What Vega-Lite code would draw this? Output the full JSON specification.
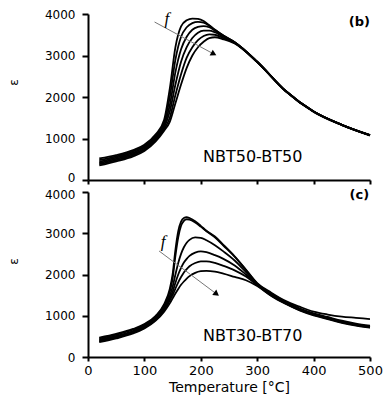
{
  "$schema": "https://vega.github.io/schema/vega-lite/v6.json",
  "padding": {"left": 7, "top": 8, "right": 5, "bottom": 4},
  "bounds": "flush",
  "spacing": 12,
  "background": "white",
  "config": {
    "view": {"stroke": null},
    "font": "DejaVu Sans",
    "axis": {
      "grid": false,
      "domainColor": "black",
      "domainWidth": 2,
      "tickColor": "black",
      "tickWidth": 2,
      "labelFont": "DejaVu Sans",
      "labelFontSize": 13,
      "labelColor": "black",
      "titleFont": "DejaVu Sans",
      "titleFontSize": 14,
      "titleFontWeight": "normal",
      "titleColor": "black",
      "labelFlush": false
    },
    "axisY": {"labelFontSize": 12}
  },
  "datasets": {
    "one": [{}],
    "b": [
      {"f":1,"T":20,"e":520},{"f":1,"T":50,"e":600},{"f":1,"T":80,"e":720},{"f":1,"T":100,"e":850},{"f":1,"T":120,"e":1100},{"f":1,"T":135,"e":1450},{"f":1,"T":145,"e":2200},{"f":1,"T":155,"e":3200},{"f":1,"T":165,"e":3700},{"f":1,"T":175,"e":3850},{"f":1,"T":185,"e":3890},{"f":1,"T":195,"e":3880},{"f":1,"T":205,"e":3830},{"f":1,"T":215,"e":3730},{"f":1,"T":225,"e":3620},{"f":1,"T":240,"e":3480},{"f":1,"T":260,"e":3320},{"f":1,"T":300,"e":2850},{"f":1,"T":350,"e":2150},{"f":1,"T":400,"e":1650},{"f":1,"T":450,"e":1330},{"f":1,"T":500,"e":1080},
      {"f":2,"T":20,"e":480},{"f":2,"T":50,"e":570},{"f":2,"T":80,"e":690},{"f":2,"T":100,"e":820},{"f":2,"T":120,"e":1060},{"f":2,"T":135,"e":1380},{"f":2,"T":145,"e":2000},{"f":2,"T":155,"e":2900},{"f":2,"T":165,"e":3450},{"f":2,"T":175,"e":3680},{"f":2,"T":185,"e":3780},{"f":2,"T":195,"e":3810},{"f":2,"T":205,"e":3790},{"f":2,"T":215,"e":3720},{"f":2,"T":225,"e":3620},{"f":2,"T":240,"e":3480},{"f":2,"T":260,"e":3320},{"f":2,"T":300,"e":2850},{"f":2,"T":350,"e":2150},{"f":2,"T":400,"e":1650},{"f":2,"T":450,"e":1330},{"f":2,"T":500,"e":1080},
      {"f":3,"T":20,"e":440},{"f":3,"T":50,"e":540},{"f":3,"T":80,"e":660},{"f":3,"T":100,"e":790},{"f":3,"T":120,"e":1020},{"f":3,"T":135,"e":1320},{"f":3,"T":145,"e":1800},{"f":3,"T":155,"e":2600},{"f":3,"T":165,"e":3150},{"f":3,"T":175,"e":3450},{"f":3,"T":185,"e":3620},{"f":3,"T":195,"e":3690},{"f":3,"T":205,"e":3710},{"f":3,"T":215,"e":3680},{"f":3,"T":225,"e":3600},{"f":3,"T":240,"e":3470},{"f":3,"T":260,"e":3320},{"f":3,"T":300,"e":2850},{"f":3,"T":350,"e":2150},{"f":3,"T":400,"e":1650},{"f":3,"T":450,"e":1330},{"f":3,"T":500,"e":1080},
      {"f":4,"T":20,"e":410},{"f":4,"T":50,"e":510},{"f":4,"T":80,"e":630},{"f":4,"T":100,"e":760},{"f":4,"T":120,"e":990},{"f":4,"T":135,"e":1270},{"f":4,"T":145,"e":1650},{"f":4,"T":155,"e":2300},{"f":4,"T":165,"e":2850},{"f":4,"T":175,"e":3200},{"f":4,"T":185,"e":3420},{"f":4,"T":195,"e":3550},{"f":4,"T":205,"e":3600},{"f":4,"T":215,"e":3600},{"f":4,"T":225,"e":3560},{"f":4,"T":240,"e":3450},{"f":4,"T":260,"e":3310},{"f":4,"T":300,"e":2850},{"f":4,"T":350,"e":2150},{"f":4,"T":400,"e":1650},{"f":4,"T":450,"e":1330},{"f":4,"T":500,"e":1080},
      {"f":5,"T":20,"e":380},{"f":5,"T":50,"e":480},{"f":5,"T":80,"e":600},{"f":5,"T":100,"e":730},{"f":5,"T":120,"e":960},{"f":5,"T":135,"e":1230},{"f":5,"T":145,"e":1500},{"f":5,"T":155,"e":2050},{"f":5,"T":165,"e":2550},{"f":5,"T":175,"e":2950},{"f":5,"T":185,"e":3200},{"f":5,"T":195,"e":3370},{"f":5,"T":205,"e":3470},{"f":5,"T":215,"e":3510},{"f":5,"T":225,"e":3500},{"f":5,"T":240,"e":3420},{"f":5,"T":260,"e":3300},{"f":5,"T":300,"e":2840},{"f":5,"T":350,"e":2150},{"f":5,"T":400,"e":1650},{"f":5,"T":450,"e":1330},{"f":5,"T":500,"e":1080},
      {"f":6,"T":20,"e":350},{"f":6,"T":50,"e":450},{"f":6,"T":80,"e":570},{"f":6,"T":100,"e":700},{"f":6,"T":120,"e":930},{"f":6,"T":135,"e":1190},{"f":6,"T":145,"e":1400},{"f":6,"T":155,"e":1850},{"f":6,"T":165,"e":2300},{"f":6,"T":175,"e":2700},{"f":6,"T":185,"e":3000},{"f":6,"T":195,"e":3200},{"f":6,"T":205,"e":3330},{"f":6,"T":215,"e":3420},{"f":6,"T":225,"e":3440},{"f":6,"T":240,"e":3390},{"f":6,"T":260,"e":3290},{"f":6,"T":300,"e":2840},{"f":6,"T":350,"e":2140},{"f":6,"T":400,"e":1640},{"f":6,"T":450,"e":1320},{"f":6,"T":500,"e":1070}
    ],
    "c": [
      {"f":1,"T":20,"e":470},{"f":1,"T":50,"e":560},{"f":1,"T":80,"e":680},{"f":1,"T":100,"e":800},{"f":1,"T":120,"e":1000},{"f":1,"T":135,"e":1280},{"f":1,"T":145,"e":1650},{"f":1,"T":150,"e":2000},{"f":1,"T":155,"e":2600},{"f":1,"T":160,"e":3050},{"f":1,"T":165,"e":3280},{"f":1,"T":170,"e":3370},{"f":1,"T":175,"e":3390},{"f":1,"T":180,"e":3370},{"f":1,"T":190,"e":3290},{"f":1,"T":200,"e":3180},{"f":1,"T":210,"e":3060},{"f":1,"T":225,"e":2920},{"f":1,"T":240,"e":2720},{"f":1,"T":260,"e":2440},{"f":1,"T":280,"e":2120},{"f":1,"T":300,"e":1790},{"f":1,"T":325,"e":1560},{"f":1,"T":350,"e":1360},{"f":1,"T":375,"e":1220},{"f":1,"T":400,"e":1100},{"f":1,"T":425,"e":1030},{"f":1,"T":450,"e":980},{"f":1,"T":475,"e":950},{"f":1,"T":500,"e":920},
      {"f":2,"T":20,"e":450},{"f":2,"T":50,"e":540},{"f":2,"T":80,"e":660},{"f":2,"T":100,"e":780},{"f":2,"T":120,"e":980},{"f":2,"T":135,"e":1250},{"f":2,"T":145,"e":1580},{"f":2,"T":150,"e":1900},{"f":2,"T":155,"e":2450},{"f":2,"T":160,"e":2900},{"f":2,"T":165,"e":3180},{"f":2,"T":170,"e":3300},{"f":2,"T":175,"e":3340},{"f":2,"T":180,"e":3330},{"f":2,"T":190,"e":3260},{"f":2,"T":200,"e":3160},{"f":2,"T":210,"e":3050},{"f":2,"T":225,"e":2900},{"f":2,"T":240,"e":2700},{"f":2,"T":260,"e":2430},{"f":2,"T":280,"e":2110},{"f":2,"T":300,"e":1780},{"f":2,"T":325,"e":1540},{"f":2,"T":350,"e":1340},{"f":2,"T":375,"e":1180},{"f":2,"T":400,"e":1060},{"f":2,"T":425,"e":970},{"f":2,"T":450,"e":880},{"f":2,"T":475,"e":810},{"f":2,"T":500,"e":760},
      {"f":3,"T":20,"e":420},{"f":3,"T":50,"e":510},{"f":3,"T":80,"e":630},{"f":3,"T":100,"e":750},{"f":3,"T":120,"e":950},{"f":3,"T":135,"e":1200},{"f":3,"T":145,"e":1480},{"f":3,"T":150,"e":1700},{"f":3,"T":155,"e":2000},{"f":3,"T":160,"e":2280},{"f":3,"T":165,"e":2500},{"f":3,"T":170,"e":2660},{"f":3,"T":175,"e":2770},{"f":3,"T":180,"e":2840},{"f":3,"T":190,"e":2900},{"f":3,"T":200,"e":2890},{"f":3,"T":210,"e":2830},{"f":3,"T":225,"e":2710},{"f":3,"T":240,"e":2560},{"f":3,"T":260,"e":2340},{"f":3,"T":280,"e":2060},{"f":3,"T":300,"e":1770},{"f":3,"T":325,"e":1520},{"f":3,"T":350,"e":1320},{"f":3,"T":375,"e":1160},{"f":3,"T":400,"e":1040},{"f":3,"T":425,"e":950},{"f":3,"T":450,"e":860},{"f":3,"T":475,"e":790},{"f":3,"T":500,"e":740},
      {"f":4,"T":20,"e":400},{"f":4,"T":50,"e":490},{"f":4,"T":80,"e":610},{"f":4,"T":100,"e":730},{"f":4,"T":120,"e":920},{"f":4,"T":135,"e":1160},{"f":4,"T":145,"e":1420},{"f":4,"T":150,"e":1580},{"f":4,"T":155,"e":1800},{"f":4,"T":160,"e":2000},{"f":4,"T":165,"e":2160},{"f":4,"T":170,"e":2290},{"f":4,"T":175,"e":2380},{"f":4,"T":180,"e":2450},{"f":4,"T":190,"e":2530},{"f":4,"T":200,"e":2560},{"f":4,"T":210,"e":2540},{"f":4,"T":225,"e":2470},{"f":4,"T":240,"e":2380},{"f":4,"T":260,"e":2220},{"f":4,"T":280,"e":2000},{"f":4,"T":300,"e":1760},{"f":4,"T":325,"e":1500},{"f":4,"T":350,"e":1310},{"f":4,"T":375,"e":1150},{"f":4,"T":400,"e":1030},{"f":4,"T":425,"e":940},{"f":4,"T":450,"e":850},{"f":4,"T":475,"e":780},{"f":4,"T":500,"e":730},
      {"f":5,"T":20,"e":380},{"f":5,"T":50,"e":470},{"f":5,"T":80,"e":590},{"f":5,"T":100,"e":710},{"f":5,"T":120,"e":900},{"f":5,"T":135,"e":1130},{"f":5,"T":145,"e":1370},{"f":5,"T":150,"e":1500},{"f":5,"T":155,"e":1660},{"f":5,"T":160,"e":1810},{"f":5,"T":165,"e":1940},{"f":5,"T":170,"e":2050},{"f":5,"T":175,"e":2130},{"f":5,"T":180,"e":2200},{"f":5,"T":190,"e":2280},{"f":5,"T":200,"e":2320},{"f":5,"T":210,"e":2320},{"f":5,"T":225,"e":2280},{"f":5,"T":240,"e":2210},{"f":5,"T":260,"e":2100},{"f":5,"T":280,"e":1950},{"f":5,"T":300,"e":1740},{"f":5,"T":325,"e":1490},{"f":5,"T":350,"e":1300},{"f":5,"T":375,"e":1140},{"f":5,"T":400,"e":1020},{"f":5,"T":425,"e":930},{"f":5,"T":450,"e":840},{"f":5,"T":475,"e":770},{"f":5,"T":500,"e":720},
      {"f":6,"T":20,"e":360},{"f":6,"T":50,"e":450},{"f":6,"T":80,"e":570},{"f":6,"T":100,"e":690},{"f":6,"T":120,"e":880},{"f":6,"T":135,"e":1100},{"f":6,"T":145,"e":1300},{"f":6,"T":150,"e":1420},{"f":6,"T":155,"e":1540},{"f":6,"T":160,"e":1650},{"f":6,"T":165,"e":1750},{"f":6,"T":170,"e":1830},{"f":6,"T":175,"e":1900},{"f":6,"T":180,"e":1960},{"f":6,"T":190,"e":2040},{"f":6,"T":200,"e":2080},{"f":6,"T":210,"e":2090},{"f":6,"T":225,"e":2070},{"f":6,"T":240,"e":2020},{"f":6,"T":260,"e":1940},{"f":6,"T":280,"e":1860},{"f":6,"T":300,"e":1720},{"f":6,"T":325,"e":1480},{"f":6,"T":350,"e":1290},{"f":6,"T":375,"e":1130},{"f":6,"T":400,"e":1010},{"f":6,"T":425,"e":920},{"f":6,"T":450,"e":830},{"f":6,"T":475,"e":760},{"f":6,"T":500,"e":710}
    ]
  },
  "vconcat": [
    {
      "width": 282,
      "height": 166,
      "layer": [
        {
          "data": {"name": "b"},
          "mark": {"type": "line", "interpolate": "monotone", "color": "black", "strokeWidth": 1.8},
          "encoding": {
            "x": {"field": "T", "type": "quantitative", "scale": {"domain": [0, 500], "nice": false},
                  "axis": {"values": [0,100,200,300,400,500], "labels": false, "title": null, "tickSize": 4}},
            "y": {"field": "e", "type": "quantitative", "scale": {"domain": [0, 4000], "nice": false},
                  "axis": {"values": [0,1000,2000,3000,4000], "format": "d", "tickSize": 6, "labelPadding": 7, "title": "ε", "titleFontSize": 12, "titlePadding": 24, "titleY": 68,
                           "labelOffset": {"condition": {"test": "datum.value == 0", "value": -3}, "value": 0}}},
            "detail": {"field": "f", "type": "nominal"}
          }
        },
        {
          "data": {"name": "one"},
          "mark": {"type": "rule", "color": "#777777", "strokeWidth": 1},
          "encoding": {"x": {"datum": 118}, "y": {"datum": 3807}, "x2": {"datum": 223}, "y2": {"datum": 3036}}
        },
        {
          "data": {"name": "one"},
          "mark": {"type": "point", "shape": "triangle-right", "filled": true, "color": "black", "size": 45, "angle": 28, "opacity": 1},
          "encoding": {"x": {"datum": 223}, "y": {"datum": 3036}}
        },
        {
          "data": {"name": "one"},
          "mark": {"type": "text", "text": "f", "font": "Liberation Serif", "fontStyle": "italic", "fontSize": 17, "color": "black"},
          "encoding": {"x": {"datum": 140}, "y": {"datum": 3880}}
        },
        {
          "data": {"name": "one"},
          "mark": {"type": "text", "text": "(b)", "font": "DejaVu Sans", "fontWeight": "bold", "fontSize": 13, "color": "black"},
          "encoding": {"x": {"datum": 481}, "y": {"datum": 3807}}
        },
        {
          "data": {"name": "one"},
          "mark": {"type": "text", "text": "NBT50-BT50", "font": "DejaVu Sans", "fontSize": 16, "color": "black"},
          "encoding": {"x": {"datum": 292}, "y": {"datum": 554}}
        }
      ]
    },
    {
      "width": 282,
      "height": 165,
      "layer": [
        {
          "data": {"name": "c"},
          "mark": {"type": "line", "interpolate": "monotone", "color": "black", "strokeWidth": 1.8},
          "encoding": {
            "x": {"field": "T", "type": "quantitative", "scale": {"domain": [0, 500], "nice": false},
                  "axis": {"values": [0,100,200,300,400,500], "title": "Temperature [°C]", "tickSize": 4, "labelPadding": 3, "titlePadding": 3}},
            "y": {"field": "e", "type": "quantitative", "scale": {"domain": [0, 4000], "nice": false},
                  "axis": {"values": [0,1000,2000,3000,4000], "format": "d", "tickSize": 6, "labelPadding": 7, "title": "ε", "titleFontSize": 12, "titlePadding": 24, "titleY": 69,
                           "labelOffset": {"condition": {"test": "datum.value == 4000", "value": 2}, "value": 0}}},
            "detail": {"field": "f", "type": "nominal"}
          }
        },
        {
          "data": {"name": "one"},
          "mark": {"type": "rule", "color": "#777777", "strokeWidth": 1},
          "encoding": {"x": {"datum": 126}, "y": {"datum": 2570}, "x2": {"datum": 228}, "y2": {"datum": 1527}}
        },
        {
          "data": {"name": "one"},
          "mark": {"type": "point", "shape": "triangle-right", "filled": true, "color": "black", "size": 45, "angle": 37, "opacity": 1},
          "encoding": {"x": {"datum": 228}, "y": {"datum": 1527}}
        },
        {
          "data": {"name": "one"},
          "mark": {"type": "text", "text": "f", "font": "Liberation Serif", "fontStyle": "italic", "fontSize": 17, "color": "black"},
          "encoding": {"x": {"datum": 133}, "y": {"datum": 2790}}
        },
        {
          "data": {"name": "one"},
          "mark": {"type": "text", "text": "(c)", "font": "DejaVu Sans", "fontWeight": "bold", "fontSize": 13, "color": "black"},
          "encoding": {"x": {"datum": 481}, "y": {"datum": 3927}}
        },
        {
          "data": {"name": "one"},
          "mark": {"type": "text", "text": "NBT30-BT70", "font": "DejaVu Sans", "fontSize": 16, "color": "black"},
          "encoding": {"x": {"datum": 292}, "y": {"datum": 509}}
        }
      ]
    }
  ]
}
